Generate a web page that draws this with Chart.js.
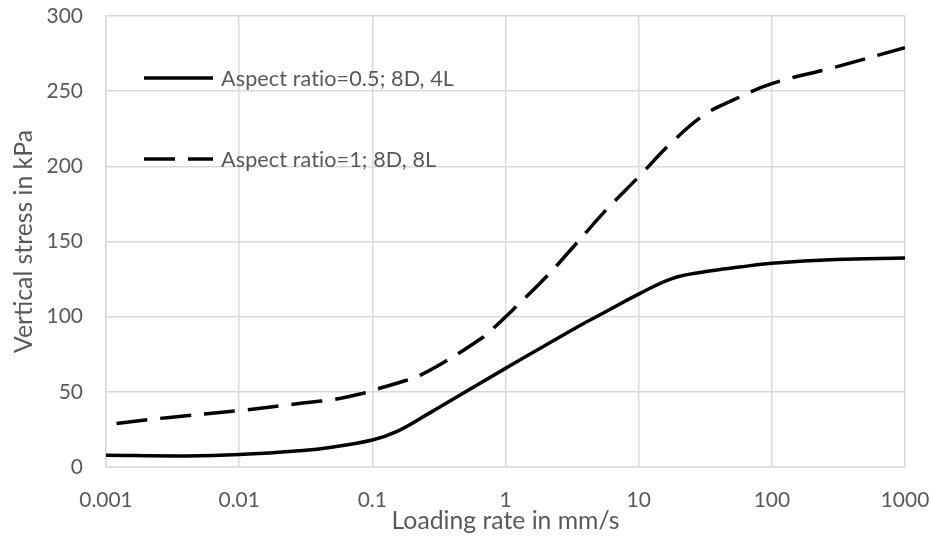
<!DOCTYPE html>
<html><head><meta charset="utf-8">
<script src="https://cdn.jsdelivr.net/npm/chart.js@4/dist/chart.umd.min.js"></script>
<style>html,body{margin:0;padding:0;background:#fff}#wrap{width:933px;height:539px}</style>
</head><body><div id="wrap"><canvas id="c" width="933" height="539"></canvas></div>
<script>
const xTickLabels = ['0.001','0.01','0.1','1','10','100','1000'];
const yTickLabels = ['0','50','100','150','200','250','300'];
const seriesNames = ['Aspect ratio=0.5; 8D, 4L','Aspect ratio=1; 8D, 8L'];
const xTitle = 'Loading rate in mm/s';
const yTitle = 'Vertical stress in kPa';

const rateSolid   = [0.001, 0.004, 0.01, 0.03, 0.048, 0.1, 0.152, 0.27, 0.38, 1, 3.6, 5.7, 10, 18, 32, 57, 100, 300, 1000];
const stressSolid = [7.8, 7.4, 8.3, 11, 13, 18, 23.5, 36, 43.8, 65.6, 94, 103.4, 115, 125.5, 130, 133, 135.5, 138, 139];

const rateDashed   = [0.0012, 0.003, 0.01, 0.03, 0.052, 0.085, 0.107, 0.176, 0.228, 0.35, 0.66, 0.81, 1.17, 2, 3.2, 5.7, 10, 18, 32, 51, 100, 300, 1000];
const stressDashed = [29, 33, 37.5, 42.5, 45, 49, 51.7, 57.4, 61, 70, 85.6, 92.3, 105.7, 126, 146, 171, 193, 216.5, 235, 244, 255, 266, 279];

const FAMILY = 'Lato, "Open Sans", sans-serif';
function fitSize(text, target){
  const c = document.createElement('canvas').getContext('2d');
  c.font = '100px ' + FAMILY;
  return 100 * target / c.measureText(text).width;
}
const tickSize = fitSize('0.001', 53.5);
const legendSize = fitSize(seriesNames[0], 231);
const titleSize = fitSize(xTitle, 228);
const GREY = '#595959';
const GRID = '#d9d9d9';

const legendPlugin = {
  id: 'insideLegend',
  afterDraw(chart){
    const ctx = chart.ctx;
    const rows = [78, 159];
    chart.data.datasets.forEach((ds, i) => {
      ctx.save();
      ctx.strokeStyle = ds.borderColor;
      ctx.lineWidth = ds.borderWidth;
      ctx.setLineDash(ds.borderDash || []);
      ctx.beginPath();
      ctx.moveTo(144, rows[i]);
      ctx.lineTo(213, rows[i]);
      ctx.stroke();
      ctx.setLineDash([]);
      ctx.fillStyle = GREY;
      ctx.font = legendSize + 'px ' + FAMILY;
      if ('letterSpacing' in ctx) ctx.letterSpacing = '0.1px';
      ctx.textBaseline = 'alphabetic';
      ctx.fillText(ds.label, 221, rows[i] + 7.6);
      ctx.restore();
    });
  }
};

new Chart(document.getElementById('c'), {
  type: 'line',
  data: {
    datasets: [
      { label: seriesNames[0], data: rateSolid.map((x, i) => ({x, y: stressSolid[i]})),
        borderColor: '#000', borderWidth: 3.5, pointRadius: 0, tension: 0.4, fill: false },
      { label: seriesNames[1], data: rateDashed.map((x, i) => ({x, y: stressDashed[i]})),
        borderColor: '#000', borderWidth: 3.5, borderDash: [31, 13], pointRadius: 0, tension: 0.4, fill: false }
    ]
  },
  options: {
    responsive: false,
    animation: false,
    layout: { padding: { left: 0, right: 28, top: 16, bottom: 0 } },
    plugins: { legend: { display: false }, tooltip: { enabled: false } },
    scales: {
      x: {
        type: 'logarithmic',
        min: parseFloat(xTickLabels[0]), max: parseFloat(xTickLabels[xTickLabels.length - 1]),
        afterBuildTicks: s => { s.ticks = xTickLabels.map(v => ({ value: parseFloat(v) })); },
        afterFit: s => { s.height = 72; s.paddingLeft = 0; s.paddingRight = 0; },
        ticks: { callback: (v, i) => xTickLabels[i], color: GREY, font: { family: FAMILY, size: tickSize },
                 padding: 21, maxRotation: 0, autoSkip: false },
        grid: { color: GRID, lineWidth: 1.5, drawTicks: false },
        border: { color: GRID, width: 1.5 },
        title: { display: true, text: xTitle, color: GREY, font: { family: FAMILY, size: titleSize },
                 padding: { top: 0, bottom: 3 } }
      },
      y: {
        min: parseFloat(yTickLabels[0]), max: parseFloat(yTickLabels[yTickLabels.length - 1]),
        afterBuildTicks: s => { s.ticks = yTickLabels.map(v => ({ value: parseFloat(v) })); },
        afterFit: s => { s.width = 106; s.paddingTop = 0; s.paddingBottom = 0; },
        ticks: { callback: (v, i) => yTickLabels[i], color: GREY, font: { family: FAMILY, size: tickSize }, padding: 23 },
        grid: { color: GRID, lineWidth: 1.5, drawTicks: false },
        border: { color: GRID, width: 1.5 },
        title: { display: true, text: yTitle, color: GREY, font: { family: FAMILY, size: titleSize },
                 padding: { top: 9, bottom: 0 } }
      }
    }
  },
  plugins: [legendPlugin]
});
</script>
</body></html>
